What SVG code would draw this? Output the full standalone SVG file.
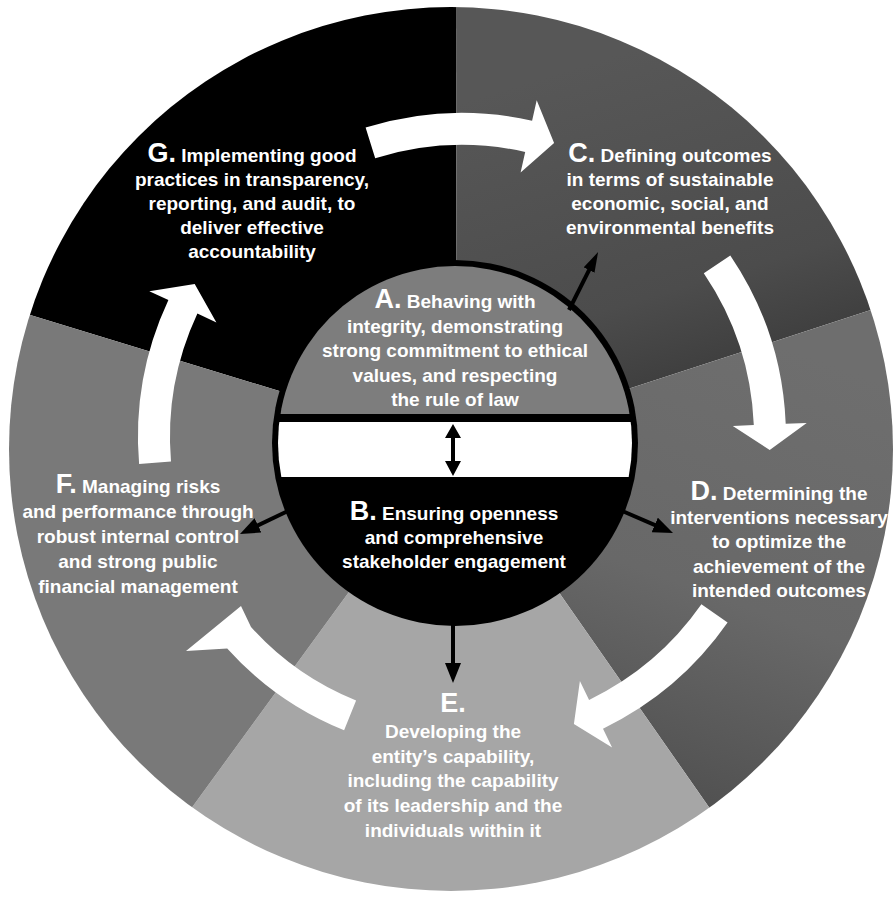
<svg xmlns="http://www.w3.org/2000/svg" width="895" height="897" viewBox="0 0 895 897">
<style>
.t{font-family:"Liberation Sans",Arial,Helvetica,sans-serif;font-weight:bold;font-size:19px;fill:#fff;text-anchor:middle}
.big{font-size:27px}
.conn{stroke:#000;stroke-width:4;fill:none}
.flow{fill:#fff}
</style>
<defs>
<clipPath id="outer"><circle cx="451" cy="449" r="442"/></clipPath>
<clipPath id="inner"><circle cx="455" cy="443" r="177"/></clipPath>
<linearGradient id="gC" gradientUnits="userSpaceOnUse" x1="600" y1="60" x2="700" y2="390">
<stop offset="0" stop-color="#575757"/><stop offset="0.7" stop-color="#4c4c4c"/><stop offset="1" stop-color="#3c3c3c"/>
</linearGradient>
<linearGradient id="gD" gradientUnits="userSpaceOnUse" x1="820" y1="360" x2="660" y2="800">
<stop offset="0" stop-color="#6e6e6e"/><stop offset="0.55" stop-color="#686868"/><stop offset="1" stop-color="#505050"/>
</linearGradient>
<marker id="ah" viewBox="0 0 20 16" markerWidth="20" markerHeight="16" refX="8" refY="8" orient="auto" markerUnits="userSpaceOnUse"><path d="M0,0 L20,8 L0,16 z" fill="#000"/></marker>
<marker id="ahN" viewBox="0 0 20 12" markerWidth="20" markerHeight="12" refX="8" refY="6" orient="auto" markerUnits="userSpaceOnUse"><path d="M0,0 L20,6 L0,12 z" fill="#000"/></marker>
</defs>

<g id="node-G">
<polygon clip-path="url(#outer)" points="456,445 -214.4,240.3 457,-255" fill="#000"/>
<text class="t" x="252" y="162"><tspan class="big">G.</tspan> Implementing good</text>
<text class="t" x="252" y="186">practices in transparency,</text>
<text class="t" x="252" y="210">reporting, and audit, to</text>
<text class="t" x="252" y="234">deliver effective</text>
<text class="t" x="252" y="258">accountability</text>
</g>

<g id="node-C">
<polygon clip-path="url(#outer)" points="456,445 457,-255 1120.8,228.7" fill="url(#gC)"/>
<text class="t" x="670" y="162"><tspan class="big">C.</tspan> Defining outcomes</text>
<text class="t" x="670" y="186">in terms of sustainable</text>
<text class="t" x="670" y="210">economic, social, and</text>
<text class="t" x="670" y="234">environmental benefits</text>
</g>

<g id="node-D">
<polygon clip-path="url(#outer)" points="456,445 1120.8,228.7 856.5,1018.4" fill="url(#gD)"/>
<text class="t" x="779" y="500"><tspan class="big">D.</tspan> Determining the</text>
<text class="t" x="779" y="524">interventions necessary</text>
<text class="t" x="779" y="548">to optimize the</text>
<text class="t" x="779" y="573">achievement of the</text>
<text class="t" x="779" y="597">intended outcomes</text>
</g>

<g id="node-E">
<polygon clip-path="url(#outer)" points="456,445 856.5,1018.4 43.5,1011.3" fill="#a6a6a6"/>
<text class="t" x="453" y="712"><tspan class="big">E.</tspan></text>
<text class="t" x="453" y="738">Developing the</text>
<text class="t" x="453" y="763">entity’s capability,</text>
<text class="t" x="453" y="787">including the capability</text>
<text class="t" x="453" y="812">of its leadership and the</text>
<text class="t" x="453" y="837">individuals within it</text>
</g>

<g id="node-F">
<polygon clip-path="url(#outer)" points="456,445 43.5,1011.3 -214.4,240.3" fill="#797979"/>
<text class="t" x="138" y="493"><tspan class="big">F.</tspan> Managing risks</text>
<text class="t" x="138" y="518">and performance through</text>
<text class="t" x="138" y="543">robust internal control</text>
<text class="t" x="138" y="568">and strong public</text>
<text class="t" x="138" y="593">financial management</text>
</g>

<g id="node-AB">
<circle cx="455" cy="443" r="183" fill="#000"/>
<rect clip-path="url(#inner)" x="270" y="250" width="370" height="164" fill="#7d7d7d"/>
<rect clip-path="url(#inner)" x="270" y="422" width="370" height="55" fill="#fff"/>
<path d="M453,424 L461,438 L455,438 L455,461 L461,461 L453,476 L445,461 L451,461 L451,438 L445,438 Z" fill="#000"/>
<g id="node-A">
<text class="t" x="455" y="308"><tspan class="big">A.</tspan> Behaving with</text>
<text class="t" x="455" y="333">integrity, demonstrating</text>
<text class="t" x="455" y="357">strong commitment to ethical</text>
<text class="t" x="455" y="382">values, and respecting</text>
<text class="t" x="455" y="406">the rule of law</text>
</g>
<g id="node-B">
<text class="t" x="454" y="520"><tspan class="big">B.</tspan> Ensuring openness</text>
<text class="t" x="454" y="544">and comprehensive</text>
<text class="t" x="454" y="568">stakeholder engagement</text>
</g>
</g>

<g id="connectors">
<path class="flow" d="M365.6,127.6 A324,324 0 0 1 532.1,120.7 L536.7,100.2 L554.1,143.1 L520.6,172.4 L525.2,151.9 A292,292 0 0 0 375.2,158.2 Z"/>
<path class="flow" d="M730.3,255.4 A324,324 0 0 1 785.7,423.7 L806.7,422.9 L769.7,450.1 L732.8,425.9 L753.8,425.0 A292,292 0 0 0 703.8,273.3 Z"/>
<path class="flow" d="M727.6,622.6 A324,324 0 0 1 603.0,728.7 L612.1,747.6 L573.9,724.0 L579.9,681.0 L589.1,699.9 A292,292 0 0 0 701.4,604.3 Z"/>
<path class="flow" d="M344.1,730.2 A316,316 0 0 1 227.2,648.4 L186,651 L241,606 L251.0,627.0 A284,284 0 0 0 356.1,700.5 Z"/>
<path class="flow" d="M139.1,464.1 A324,324 0 0 1 168.4,300.1 L149.3,291.2 L194.7,283.9 L216.4,322.5 L197.4,313.6 A292,292 0 0 0 171.0,461.4 Z"/>
<line class="conn" x1="569" y1="310" x2="592.7" y2="262.8" marker-end="url(#ahN)"/>
<line class="conn" x1="620" y1="510" x2="662" y2="528.2" marker-end="url(#ah)"/>
<line class="conn" x1="290" y1="510" x2="250.8" y2="528.8" marker-end="url(#ah)"/>
<line class="conn" x1="453" y1="624" x2="453" y2="671" marker-end="url(#ah)"/>
</g>
</svg>
